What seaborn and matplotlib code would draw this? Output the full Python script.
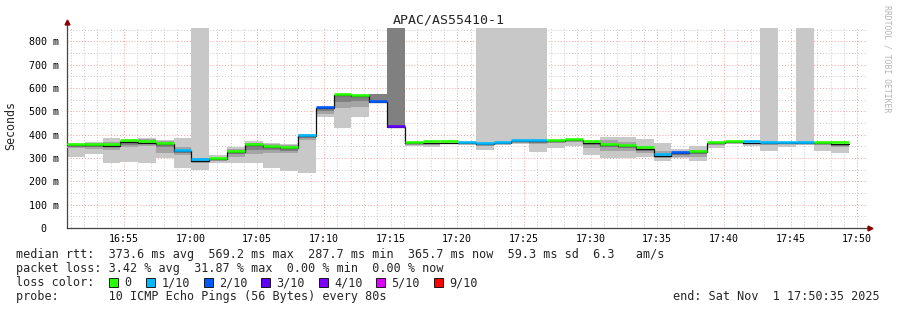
import matplotlib
matplotlib.use("Agg")
import matplotlib.pyplot as plt
import matplotlib.dates as mdates
from matplotlib.patches import Rectangle
import numpy as np
import pandas as pd
import seaborn as sns

# ---------------- data ----------------
title = "APAC/AS55410-1"
start_time = "2025-11-01 16:50:44"
step_seconds = 80
view_end = "2025-11-01 17:50:44"

median_ms = [355, 354, 352, 369, 366, 359, 330, 288, 295, 326, 356, 347, 342, 393,
             513, 569, 566, 540, 433, 364, 366, 366, 363, 359, 363, 371, 371, 373,
             377, 366, 355, 350, 339, 310, 320, 325, 363, 367, 366, 363, 363, 363,
             363, 362]
loss_idx = [0, 0, 0, 0, 0, 0, 1, 1, 0, 0, 0, 0, 0, 1,
            2, 0, 0, 2, 3, 0, 0, 0, 1, 1, 1, 1, 1, 0,
            0, 0, 0, 0, 0, 1, 2, 0, 0, 0, 1, 1, 1, 1,
            0, 0]
smoke_lo = [306, 316, 277, 284, 277, 299, 258, 249, 277, 277, 277, 256, 244, 237,
            477, 430, 477, 536, 433, 350, 348, 360, 355, 334, 355, 360, 327, 342,
            351, 313, 301, 301, 306, 288, 299, 288, 344, 360, 350, 331, 349, 355,
            331, 323]
smoke_hi = [362, 367, 384, 377, 384, 377, 384, 900, 313, 348, 373, 363, 359, 403,
            513, 569, 566, 574, 900, 366, 366, 366, 363, 900, 900, 900, 900, 373,
            377, 370, 389, 391, 381, 363, 337, 351, 363, 367, 366, 900, 363, 900,
            363, 362]
mid_lo = [342, 340, 334, 345, 350, 323, 313, 278, 285, 306, 316, 320, 322, 377,
          490, 513, 520, 536, 433, 356, 356, 362, 358, 352, 358, 365, 360, 365,
          370, 342, 330, 330, 320, 300, 305, 305, 355, 364, 360, 355, 358, 360,
          355, 345]
mid_hi = [358, 365, 370, 374, 381, 373, 349, 298, 302, 337, 366, 358, 355, 398,
          512, 566, 562, 574, 900, 365, 366, 366, 363, 365, 366, 373, 374, 374,
          378, 366, 375, 370, 350, 330, 325, 335, 364, 368, 366, 364, 364, 364,
          364, 362]
dark_lo = [346, 348, 345, 355, 360, 345, 320, 282, 290, 315, 335, 335, 332, 385,
           500, 540, 545, 538, 433, 360, 362, 364, 360, 356, 360, 368, 366, 370,
           374, 355, 345, 342, 330, 305, 312, 315, 360, 366, 363, 360, 361, 362,
           360, 351]
dark_hi = [354, 358, 360, 368, 372, 362, 335, 290, 298, 330, 360, 352, 348, 396,
           512, 566, 562, 574, 900, 365, 366, 366, 363, 362, 364, 372, 372, 374,
           378, 366, 360, 356, 345, 318, 322, 330, 364, 368, 366, 364, 364, 364,
           364, 360]

loss_labels = ["0", "1/10", "2/10", "3/10", "4/10", "5/10", "9/10"]
loss_colors = ["#26ff00", "#00b8ff", "#0059ff", "#5e00ff", "#7e00ff", "#dd00ff", "#ff0000"]
ytick_vals = [0, 100, 200, 300, 400, 500, 600, 700, 800]
ytick_labels = ["0  ", "100 m", "200 m", "300 m", "400 m", "500 m", "600 m", "700 m", "800 m"]

legend_rtt = "median rtt:  373.6 ms avg  569.2 ms max  287.7 ms min  365.7 ms now  59.3 ms sd  6.3   am/s"
legend_loss = "packet loss: 3.42 % avg  31.87 % max  0.00 % min  0.00 % now"
legend_probe = "probe:       10 ICMP Echo Pings (56 Bytes) every 80s"
legend_end = "end: Sat Nov  1 17:50:35 2025"

# ---------------- figure ----------------
sns.set_style("white")
plt.rcParams["font.family"] = ["DejaVu Sans Mono"]

W, H = 897, 310
fig = plt.figure(figsize=(W / 100, H / 100), dpi=100)
fig.patch.set_facecolor("white")
ax = fig.add_axes([67 / W, (H - 228) / H, 800 / W, 200 / H])
ax.set_facecolor("white")

n = len(median_ms)
t0 = pd.Timestamp(start_time)
times = [t0 + pd.Timedelta(seconds=step_seconds * i) for i in range(n + 1)]
tnum = mdates.date2num([t.to_pydatetime() for t in times])
width = step_seconds / 86400.0
xl = tnum[:-1]

med = np.array(median_ms, float)

# smoke layers
ax.bar(xl, np.array(smoke_hi) - np.array(smoke_lo), bottom=smoke_lo, width=width,
       align="edge", color="#c8c8c8", linewidth=0, zorder=2)
ax.bar(xl, np.array(mid_hi) - np.array(mid_lo), bottom=mid_lo, width=width,
       align="edge", color="#a4a4a4", linewidth=0, zorder=3)
ax.bar(xl, np.array(dark_hi) - np.array(dark_lo), bottom=dark_lo, width=width,
       align="edge", color="#808080", linewidth=0, zorder=4)

# median step line
med_ext = np.append(med, med[-1])
sns.lineplot(x=tnum, y=med_ext, drawstyle="steps-post", color="#111111", lw=0.9,
             ax=ax, estimator=None, sort=False, zorder=5)
# loss-coloured median band
ax.hlines(med + 6.0, xl, tnum[1:], colors=[loss_colors[k] for k in loss_idx],
          lw=1.9, zorder=6)

# axes limits / grid
ax.set_xlim(mdates.date2num(t0.to_pydatetime()),
            mdates.date2num(pd.Timestamp(view_end).to_pydatetime()))
ax.set_ylim(0, 857)

ax.xaxis.set_major_locator(mdates.MinuteLocator(byminute=range(0, 60, 5)))
ax.xaxis.set_minor_locator(mdates.MinuteLocator())
ax.xaxis.set_major_formatter(mdates.DateFormatter("%H:%M"))
ax.set_yticks(ytick_vals)
ax.set_yticklabels(ytick_labels)
ax.set_yticks(np.arange(50, 857, 100), minor=True)

ax.grid(which="minor", color="#c8c8c8", linestyle=(0, (1, 2)), lw=0.7, zorder=1)
ax.grid(which="major", color="#f2a0a0", linestyle=(0, (1, 2)), lw=0.7, zorder=1)
ax.set_axisbelow(True)

ax.tick_params(axis="both", which="both", direction="out", length=2, width=0.6,
               color="#444444", labelsize=7.2, labelcolor="#000000")
ax.tick_params(axis="y", pad=3.5)
ax.tick_params(axis="x", pad=2.5)

for s in ["top", "right"]:
    ax.spines[s].set_visible(False)
for s in ["left", "bottom"]:
    ax.spines[s].set_color("#444444")
    ax.spines[s].set_linewidth(0.9)

# axis extensions and arrows
ax.plot([0, 0], [1.0, 1.03], transform=ax.transAxes, color="#444444", lw=0.9,
        clip_on=False, zorder=7)
ax.plot([1.0, 1.004], [0, 0], transform=ax.transAxes, color="#444444", lw=0.9,
        clip_on=False, zorder=7)
ax.plot([0], [1.03], marker="^", transform=ax.transAxes, color="#8b0000",
        markersize=3.5, clip_on=False, zorder=8)
ax.plot([1.004], [0], marker=">", transform=ax.transAxes, color="#8b0000",
        markersize=3.5, clip_on=False, zorder=8)

ax.set_xlabel("")
ax.set_ylabel("")


def ftext(x, y, s, **kw):
    fig.text(x / W, 1 - y / H, s, **kw)


ftext(448.5, 20, title, ha="center", va="center", fontsize=9.5)
ftext(11, 125, "Seconds", ha="center", va="center", rotation=90, fontsize=8.4)
ftext(887, 59, "RRDTOOL / TOBI OETIKER", ha="center", va="center", rotation=270,
      fontsize=5.9, color="#b4b4b4")

fs = 8.5
y1, y2, y3, y4 = 254.3, 268.3, 282.7, 296.3
ftext(16, y1, legend_rtt, ha="left", va="center", fontsize=fs)
ftext(16, y2, legend_loss, ha="left", va="center", fontsize=fs)
ftext(16, y3, "loss color:", ha="left", va="center", fontsize=fs)
box_x = [108.5, 146, 203.5, 261, 319, 376, 433.5]
for bx, lab, col in zip(box_x, loss_labels, loss_colors):
    fig.add_artist(Rectangle((bx / W, 1 - (y3 + 4.5) / H), 9 / W, 9 / H,
                             transform=fig.transFigure, facecolor=col,
                             edgecolor="#000000", lw=0.6))
    ftext(bx + 15.5, y3, lab, ha="left", va="center", fontsize=fs)
ftext(16, y4, legend_probe, ha="left", va="center", fontsize=fs)
ftext(880, y4, legend_end, ha="right", va="center", fontsize=fs)

fig.savefig("out.png", dpi=100)
